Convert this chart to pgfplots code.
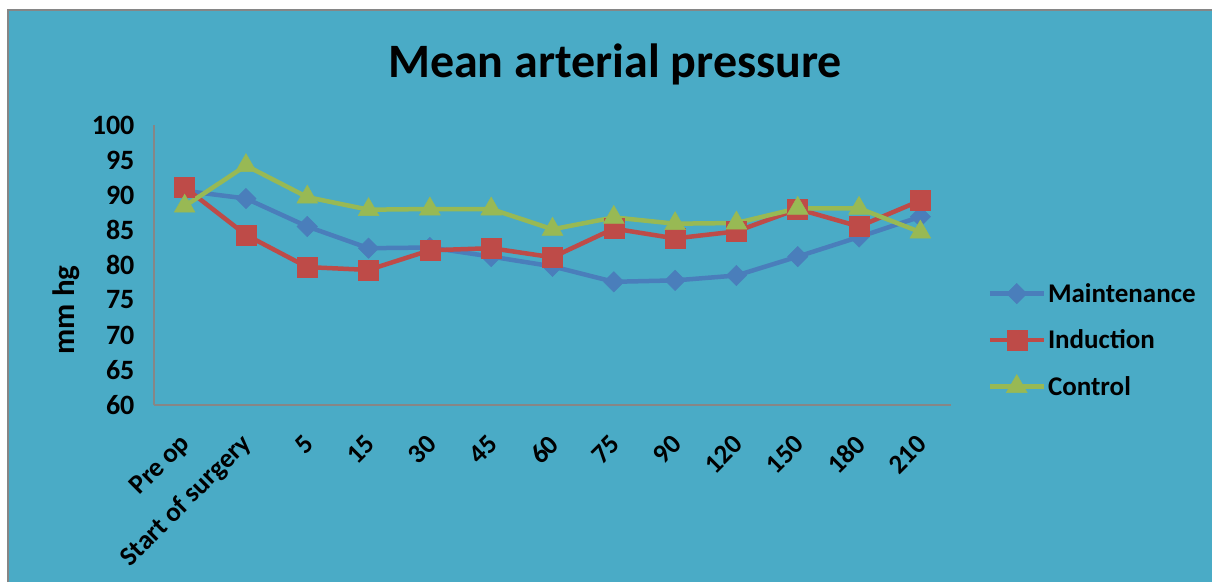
\documentclass[border=0pt]{standalone}
\usepackage{fontspec}
\setmainfont{Carlito}
\usepackage{pgfplots}
\pgfplotsset{compat=1.18}
\definecolor{bgteal}{RGB}{74,171,198}
\definecolor{axgray}{RGB}{134,134,134}
\definecolor{sblue}{RGB}{74,126,187}
\definecolor{sred}{RGB}{190,75,72}
\definecolor{sgreen}{RGB}{152,185,84}
\begin{document}
\begin{tikzpicture}[x=1pt,y=1pt]
\path[use as bounding box] (0,0) rectangle (1212,582);
\fill[white] (0,0) rectangle (1212,582);
\fill[bgteal] (8,0) rectangle (1212,572);
\draw[axgray,line width=1.2pt] (8,0) -- (8,572) -- (1212,572);
\node[anchor=base] at (615,504) {\bfseries\fontsize{48}{54}\selectfont Mean arterial pressure};
\node[rotate=90] at (66,272) {\bfseries\fontsize{31}{34}\selectfont mm hg};
\begin{axis}[
  at={(154pt,177pt)}, anchor=south west,
  scale only axis, width=797pt, height=280pt,
  xmin=-0.5, xmax=12.5, ymin=60, ymax=100,
  ytick={60,65,...,100},
  xtick={0,...,12},
  xticklabels={Pre op,Start of surgery,5,15,30,45,60,75,90,120,150,180,210},
  axis x line*=bottom, axis y line*=left,
  axis line style={-,draw=axgray,line width=1.5pt},
  major tick length=0pt,
  /pgf/number format/assume math mode=true,
  ticklabel style={font=\bfseries\fontsize{27}{31}\selectfont},
  yticklabel style={xshift=-14pt,font=\bfseries\fontsize{28}{31}\selectfont},
  xticklabel style={rotate=45,anchor=east,yshift=-26pt,xshift=-18pt},
  line width=4.5pt,
  legend cell align=left,
  legend style={at={(1.043,0.232)},anchor=west,draw=none,fill=none,
    font=\bfseries\fontsize{27}{31}\selectfont,row sep=22pt,inner sep=0pt},
  legend image code/.code={\draw[mark repeat=2,mark phase=2,#1] plot coordinates {(0pt,0pt) (27pt,0pt) (54pt,0pt)};},
]
\addplot[sblue,mark=square*,mark size=7.2pt,mark options={rotate=45,line width=0.5pt}] coordinates {
(0,90.6) (1,89.5) (2,85.5) (3,82.4) (4,82.5) (5,81.2) (6,79.8) (7,77.6) (8,77.8) (9,78.5) (10,81.2) (11,84.0) (12,86.9)};
\addlegendentry{Maintenance}
\addplot[sred,mark=square*,mark size=10pt,mark options={line width=0.5pt}] coordinates {
(0,91.1) (1,84.3) (2,79.7) (3,79.3) (4,82.1) (5,82.4) (6,81.1) (7,85.2) (8,83.8) (9,84.8) (10,88.0) (11,85.5) (12,89.2)};
\addlegendentry{Induction}
\addplot[sgreen,mark=triangle*,mark size=12pt,mark options={line width=0.5pt}] coordinates {
(0,88.4) (1,94.2) (2,89.7) (3,87.9) (4,88.0) (5,88.0) (6,85.1) (7,86.8) (8,85.9) (9,86.0) (10,88.1) (11,88.1) (12,84.7)};
\addlegendentry{Control}
\end{axis}
\end{tikzpicture}
\end{document}
